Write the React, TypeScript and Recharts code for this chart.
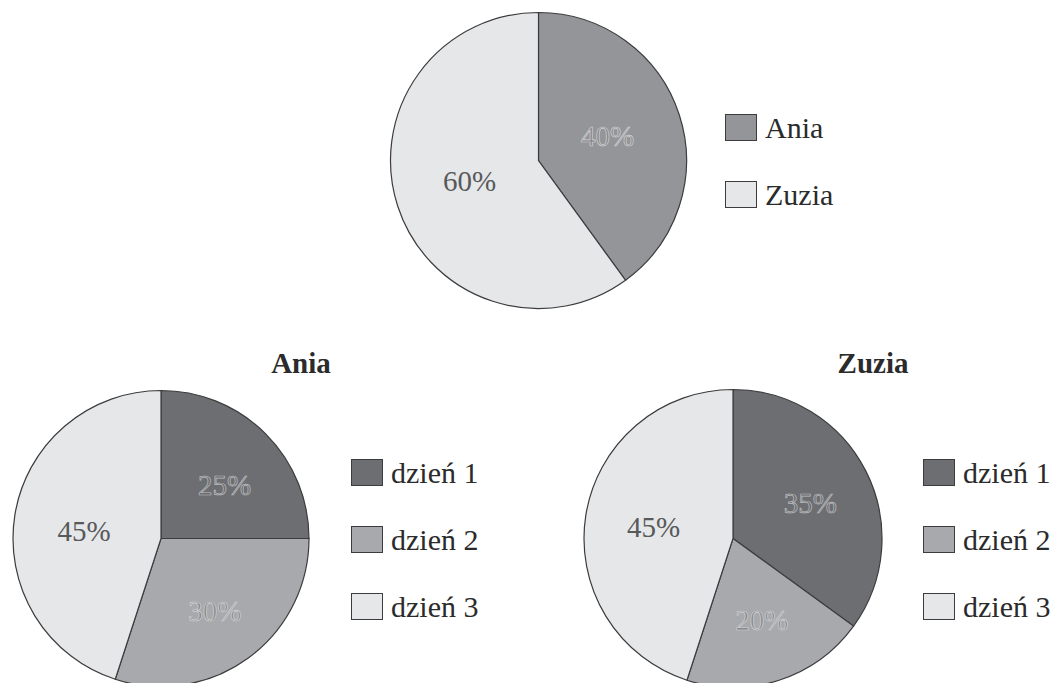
import { PieChart, Pie, Cell, Legend } from 'recharts'

const totalNames = ['Ania', 'Zuzia']
const totalValues = [40, 60]

const dayNames = ['dzień 1', 'dzień 2', 'dzień 3']
const aniaValues = [25, 30, 45]
const zuziaValues = [35, 20, 45]

const SERIF = 'Liberation Serif'
const EDGE = '#3c3c3e'

const TOP_COLORS = ['#939598', '#e6e7e8']
const TOP_LABEL_FILL = ['#8a8b8e', '#58595b']
const TOP_LABEL_STROKE = ['#d2d3d5', 'none']

const DAY_COLORS = ['#6d6e71', '#a7a9ac', '#e6e7e8']
const DAY_LABEL_FILL = ['#6d6e71', '#8a8b8e', '#58595b']
const DAY_LABEL_STROKE = ['#bdbec0', '#d2d3d5', 'none']

const RAD = Math.PI / 180

type Block = {
  names: string[]
  values: number[]
  colors: string[]
  labelFill: string[]
  labelStroke: string[]
  left: number
  top: number
  width: number
  height: number
  cx: number
  cy: number
  r: number
  labelFactor: number
  labelDx: number
  labelDy: number
  title?: string
  titleX?: number
  titleY?: number
  legendLeft: number
  legendTop: number
  legendGap: number
}

const PieBlock = (b: Block) => {
  const data = b.names.map((name, i) => ({ name, value: b.values[i] }))

  const renderLabel = (p: any) => {
    const rr = p.outerRadius * b.labelFactor
    const x = p.cx + rr * Math.cos(-p.midAngle * RAD) + b.labelDx
    const y = p.cy + rr * Math.sin(-p.midAngle * RAD) + b.labelDy
    const stroke = b.labelStroke[p.index]
    return (
      <g key={`lbl-${p.index}`}>
        <text
          x={x}
          y={y + 9}
          textAnchor="middle"
          fontFamily={SERIF}
          fontSize={29}
          fill={b.labelFill[p.index]}
          stroke={stroke}
          strokeWidth={stroke === 'none' ? 0 : 0.7}
        >
          {`${p.value}%`}
        </text>
      </g>
    )
  }

  const renderLegend = () => (
    <div style={{ fontFamily: SERIF, fontSize: 30, color: '#2b2b2b' }}>
      {data.map((d, i) => (
        <div key={d.name} style={{ display: 'flex', alignItems: 'center', height: b.legendGap }}>
          <span
            style={{
              display: 'inline-block',
              width: 30,
              height: 25,
              background: b.colors[i],
              border: `1.3px solid ${EDGE}`,
              marginRight: 8,
            }}
          />
          <span style={{ lineHeight: 1 }}>{d.name}</span>
        </div>
      ))}
    </div>
  )

  return (
    <div style={{ position: 'absolute', left: b.left, top: b.top, width: b.width, height: b.height, fontFamily: SERIF }}>
      {b.title && (
        <div
          style={{
            position: 'absolute',
            left: (b.titleX ?? 0) - 100,
            top: b.titleY,
            width: 200,
            textAlign: 'center',
            fontWeight: 'bold',
            fontSize: 29,
            color: '#2b2b2b',
            lineHeight: 1,
          }}
        >
          {b.title}
        </div>
      )}
      <PieChart width={b.width} height={b.height} margin={{ top: 0, right: 0, bottom: 0, left: 0 }} style={{ fontFamily: SERIF }}>
        <Pie
          data={data}
          dataKey="value"
          nameKey="name"
          cx={b.cx}
          cy={b.cy}
          outerRadius={b.r}
          startAngle={90}
          endAngle={-270}
          stroke={EDGE}
          strokeWidth={1.2}
          label={renderLabel}
          labelLine={false}
          isAnimationActive={false}
        >
          {data.map((d, i) => (
            <Cell key={d.name} fill={b.colors[i]} />
          ))}
        </Pie>
        <Legend
          content={renderLegend}
          wrapperStyle={{ position: 'absolute', left: b.legendLeft, top: b.legendTop, width: 'auto' }}
        />
      </PieChart>
    </div>
  )
}

export default function App() {
  return (
    <div style={{ position: 'absolute', left: 0, top: 0, width: 1057, height: 683, background: '#fff', overflow: 'hidden' }}>
      <PieBlock
        names={totalNames}
        values={totalValues}
        colors={TOP_COLORS}
        labelFill={TOP_LABEL_FILL}
        labelStroke={TOP_LABEL_STROKE}
        left={0}
        top={0}
        width={1057}
        height={330}
        cx={538.5}
        cy={160.5}
        r={148}
        labelFactor={0.49}
        labelDx={0}
        labelDy={-1}
        legendLeft={725}
        legendTop={94}
        legendGap={67}
      />
      <PieBlock
        names={dayNames}
        values={aniaValues}
        colors={DAY_COLORS}
        labelFill={DAY_LABEL_FILL}
        labelStroke={DAY_LABEL_STROKE}
        left={0}
        top={335}
        width={570}
        height={348}
        cx={161}
        cy={203.5}
        r={148}
        labelFactor={0.56}
        labelDx={5}
        labelDy={6}
        title="Ania"
        titleX={301}
        titleY={14}
        legendLeft={351}
        legendTop={104}
        legendGap={67}
      />
      <PieBlock
        names={dayNames}
        values={zuziaValues}
        colors={DAY_COLORS}
        labelFill={DAY_LABEL_FILL}
        labelStroke={DAY_LABEL_STROKE}
        left={570}
        top={335}
        width={487}
        height={348}
        cx={163}
        cy={203.5}
        r={149}
        labelFactor={0.56}
        labelDx={3}
        labelDy={3}
        title="Zuzia"
        titleX={303}
        titleY={14}
        legendLeft={353}
        legendTop={104}
        legendGap={67}
      />
    </div>
  )
}
